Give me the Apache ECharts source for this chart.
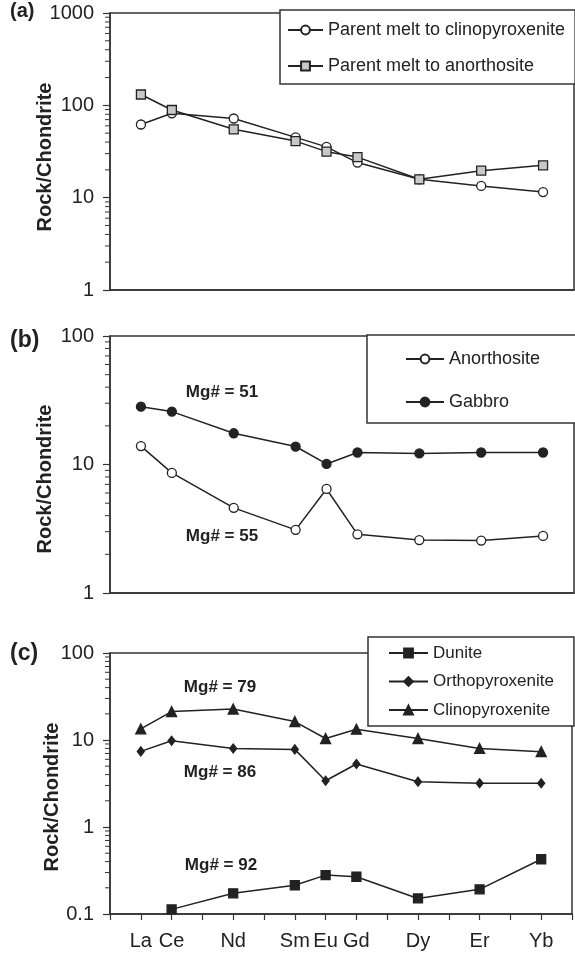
<!DOCTYPE html>
<html><head><meta charset="utf-8">
<script src="https://cdn.jsdelivr.net/npm/echarts@6/dist/echarts.min.js"></script>
<style>html,body{margin:0;padding:0;background:#fff}#c{width:575px;height:957px}</style>
</head><body><div id="c"></div>
<script>
// REE sequence on the x axis (slot positions), and the elements plotted
const elements = ['', 'La', 'Ce', 'Pr', 'Nd', 'Pm', 'Sm', 'Eu', 'Gd', 'Tb', 'Dy', 'Ho', 'Er', 'Tm', 'Yb', 'Lu'];
const plotted = ['La', 'Ce', 'Nd', 'Sm', 'Eu', 'Gd', 'Dy', 'Er', 'Yb'];

// (a) parent melts
const meltClinopyroxenite = [62, 82, 72, 45, 35.5, 24, 15.8, 13.4, 11.5];
const meltAnorthosite = [131, 89, 55, 41, 31.5, 27.5, 15.8, 19.6, 22.4];
// (b)
const anorthosite = [13.9, 8.6, 4.6, 3.1, 6.45, 2.86, 2.58, 2.56, 2.78];
const gabbro = [28.2, 25.8, 17.5, 13.8, 10.1, 12.4, 12.2, 12.4, 12.4];
// (c)
const dunite = [null, 0.113, 0.173, 0.214, 0.28, 0.268, 0.151, 0.192, 0.426];
const orthopyroxenite = [7.4, 9.8, 8.0, 7.8, 3.4, 5.3, 3.32, 3.18, 3.18];
const clinopyroxenite = [13.4, 21.2, 22.7, 16.3, 10.4, 13.3, 10.4, 8.0, 7.35];

// y ranges (log axes)
const yRangeA = [1, 1000];
const yRangeB = [1, 100];
const yRangeC = [0.1, 100];

const panelLabels = ['(a)', '(b)', '(c)'];
const yName = 'Rock/Chondrite';

const INK = '#222';
const FONT = '"Liberation Sans", Arial, sans-serif';

function pairs(arr) { return plotted.map((el, i) => [el, arr[i]]); }
function minorValues(range) {
  const out = [];
  for (let d = range[0]; d < range[1] - 1e-9; d *= 10) {
    for (let k = 2; k <= 9; k++) out.push([0, +(d * k).toPrecision(6)]);
  }
  return out;
}

const grids = [
  { left: 110, top: 13, width: 464, height: 277 },
  { left: 110, top: 336, width: 464, height: 257 },
  { left: 110, top: 653, width: 464, height: 261 }
].map(g => Object.assign(g, { show: true, borderColor: '#333', borderWidth: 1.5, backgroundColor: 'transparent' }));

const ranges = [yRangeA, yRangeB, yRangeC];

const xAxes = [0, 1, 2].map(i => ({
  type: 'category', gridIndex: i, data: elements, boundaryGap: false,
  axisLine: { show: true, lineStyle: { color: '#333', width: 1.5 } },
  axisTick: { show: i === 2, interval: 0, length: 6, lineStyle: { color: '#333', width: 1.2 } },
  axisLabel: {
    show: i === 2, interval: 0, fontSize: 20, color: INK, fontFamily: FONT, margin: 17,
    formatter: v => plotted.indexOf(v) >= 0 ? v : ''
  },
  splitLine: { show: false }
}));

const yAxes = [0, 1, 2].map(i => ({
  type: 'log', logBase: 10, gridIndex: i, min: ranges[i][0], max: ranges[i][1],
  axisLine: { show: true, lineStyle: { color: '#333', width: 1.5 } },
  axisTick: { show: true, length: 7, lineStyle: { color: '#333', width: 1.2 } },
  axisLabel: { fontSize: 20, color: INK, fontFamily: FONT, margin: 16, formatter: v => String(v) },
  splitLine: { show: false }
}));

function lineSeries(name, arr, idx, symbol, size, fill) {
  return {
    name, type: 'line', xAxisIndex: idx, yAxisIndex: idx, data: pairs(arr),
    symbol, symbolSize: size, showAllSymbol: true, connectNulls: true,
    lineStyle: { color: INK, width: 1.5 },
    itemStyle: { color: fill, borderColor: INK, borderWidth: 1.3 },
    emphasis: { disabled: true }, animation: false, z: 3
  };
}

function minorTickSeries(idx) {
  return {
    type: 'custom', xAxisIndex: idx, yAxisIndex: idx, data: minorValues(ranges[idx]),
    clip: false, silent: true, animation: false,
    renderItem: (params, api) => {
      const p = api.coord([0, api.value(1)]);
      return { type: 'line', shape: { x1: p[0] - 5, y1: p[1], x2: p[0], y2: p[1] }, style: { stroke: '#333', lineWidth: 1 } };
    }
  };
}

const legendBase = {
  orient: 'vertical', backgroundColor: '#fff', borderColor: '#333', borderWidth: 1.5,
  itemHeight: 11, selectedMode: false,
  textStyle: { color: INK, fontFamily: FONT, fontSize: 18, lineHeight: 20 }
};

const option = {
  animation: false,
  grid: grids,
  xAxis: xAxes,
  yAxis: yAxes,
  legend: [
    Object.assign({}, legendBase, { left: 280, top: 10, itemWidth: 35, itemGap: 16, padding: [10, 10, 8, 7],
      data: ['Parent melt to clinopyroxenite', 'Parent melt to anorthosite'] }),
    Object.assign({}, legendBase, { left: 367, top: 335, itemWidth: 38, itemGap: 23, padding: [14, 40, 11, 38],
      data: ['Anorthosite', 'Gabbro'] }),
    Object.assign({}, legendBase, { left: 368, top: 637, itemWidth: 39, itemGap: 8.5, padding: [6, 20, 6, 20],
      textStyle: { color: INK, fontFamily: FONT, fontSize: 17, lineHeight: 20 },
      data: ['Dunite', 'Orthopyroxenite', 'Clinopyroxenite'] })
  ],
  series: [
    lineSeries('Parent melt to clinopyroxenite', meltClinopyroxenite, 0, 'circle', 9, '#fff'),
    lineSeries('Parent melt to anorthosite', meltAnorthosite, 0, 'rect', 9, '#c8c8c8'),
    lineSeries('Anorthosite', anorthosite, 1, 'circle', 9, '#fff'),
    lineSeries('Gabbro', gabbro, 1, 'circle', 9, INK),
    lineSeries('Dunite', dunite, 2, 'rect', 9, INK),
    lineSeries('Orthopyroxenite', orthopyroxenite, 2, 'diamond', [7, 9], INK),
    lineSeries('Clinopyroxenite', clinopyroxenite, 2, 'triangle', 10, INK),
    minorTickSeries(0), minorTickSeries(1), minorTickSeries(2)
  ],
  graphic: [
    { type: 'text', left: 10, top: 1, style: { text: panelLabels[0], font: 'bold 20px ' + FONT, fill: INK } },
    { type: 'text', left: 10, top: 329, style: { text: panelLabels[1], font: 'bold 23px ' + FONT, fill: INK } },
    { type: 'text', left: 10, top: 642, style: { text: panelLabels[2], font: 'bold 23px ' + FONT, fill: INK } },
    { type: 'text', x: 45, y: 157, rotation: Math.PI / 2, style: { text: yName, font: 'bold 20px ' + FONT, fill: INK, align: 'center', verticalAlign: 'middle' } },
    { type: 'text', x: 45, y: 479, rotation: Math.PI / 2, style: { text: yName, font: 'bold 20px ' + FONT, fill: INK, align: 'center', verticalAlign: 'middle' } },
    { type: 'text', x: 52, y: 797, rotation: Math.PI / 2, style: { text: yName, font: 'bold 20px ' + FONT, fill: INK, align: 'center', verticalAlign: 'middle' } },
    { type: 'text', x: 222, y: 392, style: { text: 'Mg# = 51', font: 'bold 17px ' + FONT, fill: INK, align: 'center', verticalAlign: 'middle' } },
    { type: 'text', x: 222, y: 536, style: { text: 'Mg# = 55', font: 'bold 17px ' + FONT, fill: INK, align: 'center', verticalAlign: 'middle' } },
    { type: 'text', x: 220, y: 687, style: { text: 'Mg# = 79', font: 'bold 17px ' + FONT, fill: INK, align: 'center', verticalAlign: 'middle' } },
    { type: 'text', x: 220, y: 772, style: { text: 'Mg# = 86', font: 'bold 17px ' + FONT, fill: INK, align: 'center', verticalAlign: 'middle' } },
    { type: 'text', x: 221, y: 865, style: { text: 'Mg# = 92', font: 'bold 17px ' + FONT, fill: INK, align: 'center', verticalAlign: 'middle' } }
  ]
};

const chart = echarts.init(document.getElementById('c'), null, { renderer: 'canvas' });
chart.setOption(option);
</script>
</body></html>
